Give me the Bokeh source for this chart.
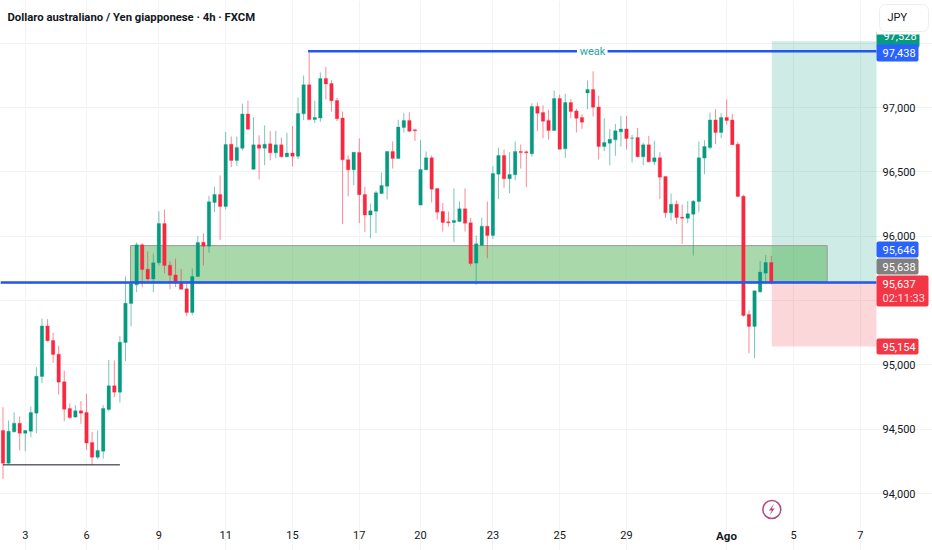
from bokeh.plotting import figure
from bokeh.models import (ColumnDataSource, FixedTicker, Label, BoxAnnotation, Range1d)
from bokeh.embed import file_html
from bokeh.resources import INLINE

highs = [94671,94568,94630,94599,94495,94676,94982,95360,95355,95249,95148,94956,94700,94687,94718,94775,94480,94490,94687,95039,95034,95226,95687,95643,95951,95946,95883,95865,96194,96207,95806,95826,95746,95643,95749,96003,96023,
96314,96384,96472,96811,96775,96775,97031,97052,96923,96785,96861,96816,96819,96767,96804,96855,97078,97249,97428,97052,97272,97316,97213,97076,96969,96627,96653,96760,96384,96254,96353,96495,96664,96736,96905,96956,96962,96835,96749,96659,
96627,96373,96259,96192,96371,96270,96371,96143,96006,96143,96270,96544,96689,96674,96653,96736,96713,96666,97034,97039,97018,96982,97132,97101,97106,97067,96990,96948,97210,97282,97093,96917,96834,96873,96935,96935,96788,96842,
96726,96780,96741,96653,96464,96332,96278,96247,96272,96283,96736,96746,96961,96987,96956,97062,96951,96733,96322,95423,95576,95809,95853,95848]
lows = [94114,94231,94474,94335,94329,94438,94469,94858,95182,95016,94770,94562,94581,94588,94542,94340,94226,94267,94272,94640,94749,94708,95029,95298,95565,95604,95655,95565,95772,95712,95588,95604,95583,95378,95386,95681,95773,
95871,96187,95972,96208,96537,96547,96666,96829,96516,96441,96552,96589,96607,96614,96614,96542,96599,96902,96905,96879,96889,97063,96969,96894,96094,96309,96397,96102,96032,95985,96024,96327,96288,96526,96602,96806,96811,96741,96239,96516,
96262,96130,96037,96075,95954,96109,96037,95767,95622,95923,95829,95980,96288,96376,96335,96435,96526,96381,96619,96816,96762,96751,96819,96676,96609,96917,96806,96834,96987,96930,96596,96661,96552,96625,96697,96674,96573,96612,
96552,96575,96552,96288,96143,96122,96096,95941,96101,95850,96187,96482,96676,96715,96762,96868,96708,96306,95374,95091,95052,95558,95635,95625]
opens = [94490,94236,94480,94547,94469,94485,94625,94910,95303,95189,95083,94868,94661,94594,94643,94630,94397,94283,94329,94653,94837,94788,95174,95477,95622,95933,95744,95668,95793,96098,95775,95699,95643,95591,95407,95687,95954,
95923,96262,96324,96231,96715,96589,96684,96949,96521,96710,96684,96718,96648,96710,96617,96646,96622,96951,97177,96907,96918,97226,97187,97055,96918,96594,96516,96651,96324,96164,96195,96332,96389,96659,96604,96845,96899,96827,96242,96516,
96609,96371,96192,96112,96107,96114,96213,96104,95791,95930,96078,96006,96482,96627,96446,96477,96658,96656,96640,97008,96961,96899,96821,97070,96679,97039,96974,96922,97114,97140,97005,96697,96723,96749,96811,96834,96762,96767,
96617,96710,96578,96609,96464,96182,96249,96148,96140,96171,96270,96607,96689,96904,96806,96922,96904,96715,96311,95392,95299,95568,95713,95796]
closes = [94236,94485,94547,94469,94490,94630,94912,95303,95187,95081,94866,94656,94591,94643,94625,94392,94283,94335,94661,94837,94788,95176,95479,95630,95933,95741,95668,95793,96098,95772,95697,95637,95588,95407,95687,95951,95923,
96267,96324,96231,96713,96589,96690,96949,96832,96710,96684,96715,96648,96710,96617,96646,96622,96954,97177,96907,96923,97226,97184,97052,96912,96594,96516,96653,96322,96164,96197,96337,96394,96659,96604,96848,96899,96816,96819,96519,96609,
96366,96187,96107,96104,96122,96213,96101,95788,95941,96078,96006,96487,96627,96446,96480,96658,96650,96648,97008,96956,96894,96821,97070,96676,97039,96969,96917,96886,97140,97003,96697,96728,96754,96819,96834,96759,96764,96617,
96710,96578,96609,96459,96182,96249,96145,96140,96174,96272,96609,96697,96904,96806,96922,96899,96710,96309,95384,95299,95576,95721,95796,95637]

x_ticks = [4,15,28,40,52,64,75,88,100,112,130,142,154]
x_labels = ["3","6","9","11","15","17","20","23","25","29","","5","7"]
y_ticks = [94000,94500,95000,95500,96000,96500,97000,97500]
y_labels = ["94,000","94,500","95,000","","96,000","96,500","97,000",""]

zone_price = [95647, 95927]
zone_span = [22.9, 148.05]
level_low = 95640
level_high = 97438
support = 94223
support_span = [0, 21]
weak_gaps = [54.8, 103.1, 108.6, 156.9]
entry = 138.1
target = 97516
stop = 95142

GREEN, RED = "#089981", "#f7283f"
BLUE = "#2158f0"
FONT = "Roboto"
AXIS_FONT = "Roboto"

n = list(range(len(opens)))
colors = [GREEN if c >= o else RED for o, c in zip(opens, closes)]
src = ColumnDataSource(dict(x=n, h=highs, l=lows, o=opens, c=closes, col=colors))

# pane edge: prices right of it / below it are the axis strips
XL, XR = -0.449, 156.9
YB, YT = 93775, 97832
p = figure(width=932, height=550, x_range=Range1d(XL, XL + 932 / 5.567),
           y_range=Range1d(YT - 550 * 7.772, YT),
           output_backend="svg", toolbar_location=None, y_axis_location="right",
           min_border_left=0, min_border_right=0, min_border_top=0, min_border_bottom=0,
           background_fill_color="white", border_fill_color="white",
           outline_line_color=None)

p.xgrid.ticker = FixedTicker(ticks=x_ticks)
p.ygrid.ticker = FixedTicker(ticks=y_ticks)
p.xgrid.grid_line_color = "#f2f3f5"
p.ygrid.grid_line_color = "#f2f3f5"
p.xgrid.bounds = (YB, YT)
p.ygrid.bounds = (XL, XR)

p.xaxis.ticker = FixedTicker(ticks=x_ticks)
p.xaxis.major_label_overrides = dict(zip(x_ticks, x_labels))
p.yaxis.ticker = FixedTicker(ticks=y_ticks)
p.yaxis.major_label_overrides = dict(zip(y_ticks, y_labels))
for ax in (p.xaxis[0], p.yaxis[0]):
    ax.axis_line_color = None
    ax.major_tick_line_color = None
    ax.minor_tick_line_color = None
    ax.major_tick_out = 0
    ax.major_tick_in = 0
    ax.major_label_text_color = "#131722"
    ax.major_label_text_font = AXIS_FONT
    ax.major_label_text_font_size = "11px"
p.xaxis[0].fixed_location = YB
p.yaxis[0].fixed_location = XR
p.xaxis[0].major_label_standoff = 8
p.yaxis[0].major_label_standoff = 6

# long-position rectangles
p.quad(left=[entry], right=[XR], bottom=[level_low], top=[target], fill_color=GREEN, fill_alpha=0.2, line_color=None)
p.quad(left=[entry], right=[XR], bottom=[stop], top=[level_low], fill_color="#f23645", fill_alpha=0.2, line_color=None)
# demand zone
p.quad(left=[zone_span[0]], right=[zone_span[1]], bottom=[zone_price[0]], top=[zone_price[1]],
       fill_color="#4caf50", fill_alpha=0.48, line_color="#9a9a9a", line_width=1)

# candles
p.segment("x", "l", "x", "h", source=src, line_color="col", line_width=1, line_alpha=0.55)
p.vbar(x="x", top="o", bottom="c", width=0.62, source=src, fill_color="col", line_color="col", line_width=0.3)

# levels
p.line([XL, XR], [level_low - 4, level_low - 4], line_color="#f23645", line_width=1, line_dash="1 2")
p.line([XL, XR], [level_low, level_low], line_color=BLUE, line_width=2.4)
p.line(weak_gaps[:2], [level_high, level_high], line_color=BLUE, line_width=2.4)
p.line(weak_gaps[2:], [level_high, level_high], line_color=BLUE, line_width=2.4)
p.line(support_span, [support, support], line_color="#131722", line_width=1)

# bolt badge
bolt_x = [0.4, -0.5, 0.0, -0.4, 0.5, 0.0]
bolt_y = [47, -8, -8, -47, 8, 8]
p.scatter([entry], [93876], size=18, marker="circle", fill_color="white",
          line_color="#b24a88", line_width=1.5)
p.patch([entry + v for v in bolt_x], [93876 + v for v in bolt_y], fill_color="#b24a88", line_color=None)

H = 550


def sy(px):
    return H - px


def box(x0, x1, y0, y1, color, radius=2, line=None):
    p.add_layout(BoxAnnotation(left=x0, right=x1, top=sy(y0), bottom=sy(y1),
                               left_units="screen", right_units="screen", top_units="screen", bottom_units="screen",
                               fill_color=color, fill_alpha=1, line_color=line, line_alpha=1 if line else 0,
                               border_radius=radius))


def text(x, y, s, color="white", size="11px", font=AXIS_FONT, style="normal", align="left"):
    p.add_layout(Label(x=x, y=sy(y), x_units="screen", y_units="screen", text=s, text_color=color,
                       text_font=font, text_font_size=size, text_font_style=style, text_align=align,
                       text_baseline="middle"))


text(7, 16.5, "Dollaro australiano / Yen giapponese · 4h · FXCM", "#131722", "11.3px", FONT, "bold")
text(592, 51, "weak", "#26a69a", "11px", FONT, "normal", "center")
text(726, 535, "Ago", "#131722", "11.5px", FONT, "bold", "center")

box(876, 919, 30, 47, "#089981")
text(883, 35.5, "97,528")
box(876, 932, 0, 34, "white", 0)
box(879, 928, 4, 31, "white", 6, "#eceef2")
text(887, 17, "JPY", "#131722", "11px", FONT)
box(876, 918, 44, 61, "#2962ff")
text(882, 52.5, "97,438")
box(876, 918, 241, 257, "#2962ff")
text(882, 249, "95,646")
box(876, 918, 258, 274, "#808080")
text(882, 266, "95,638")
box(876, 928, 275, 306, "#f23645")
text(882, 283, "95,637")
text(882, 298, "02:11:33", "#ffdfe2")
box(876, 918, 338, 354, "#f23645")
text(882, 346, "95,154")

open("out.html", "w").write(file_html(p, INLINE))
